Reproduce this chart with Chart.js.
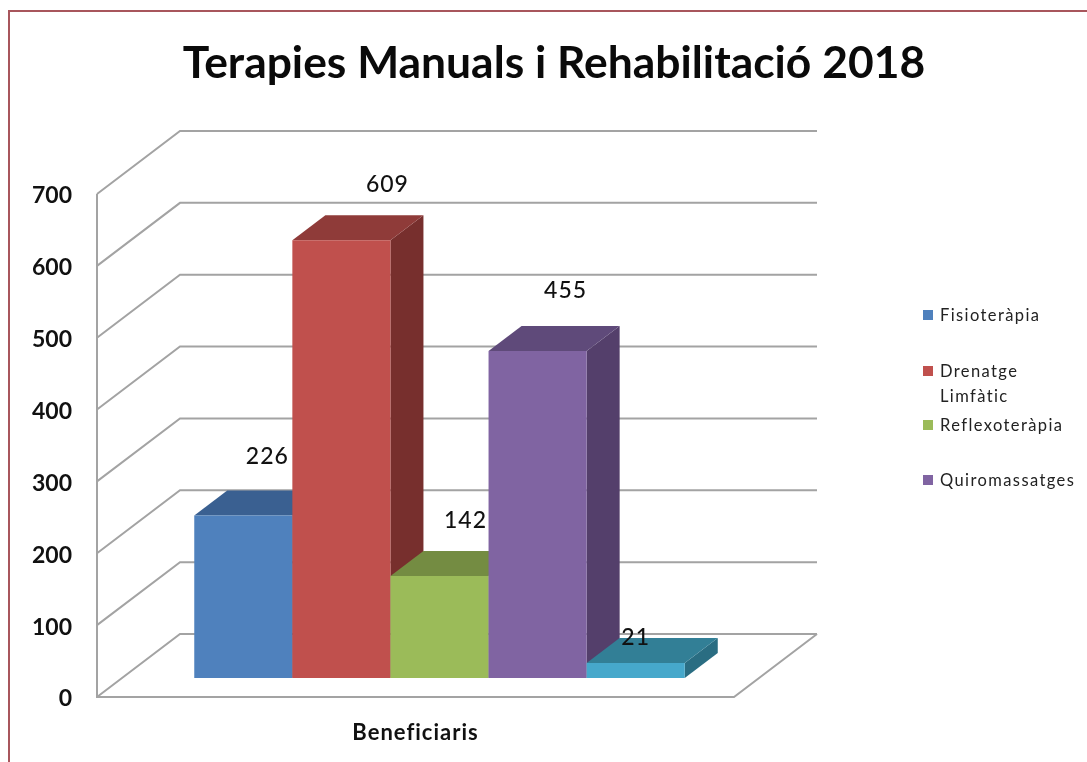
<!DOCTYPE html>
<html>
<head>
<meta charset="utf-8">
<style>html,body{margin:0;padding:0;background:#fff;overflow:hidden}canvas{display:block}</style>
<script src="https://cdn.jsdelivr.net/npm/chart.js@4"></script>
</head>
<body>
<canvas id="c" width="1087" height="762"></canvas>
<script>
const titleText = 'Terapies Manuals i Rehabilitació 2018';
const categories = ['Beneficiaris'];
const seriesNames = ['Fisioteràpia', 'Drenatge Limfàtic', 'Reflexoteràpia', 'Quiromassatges', ''];
const seriesValues = [226, 609, 142, 455, 21];
const yMin = 0, yMax = 700, yStep = 100;

const frontColors = ['#4F81BD', '#C0504D', '#9BBB59', '#8064A2', '#46A8CB'];
const topColors   = ['#3A6091', '#8F3B39', '#748C42', '#5F4A7A', '#327F96'];
const sideColors  = ['#2F4F78', '#772F2D', '#5F7336', '#543F6B', '#2A6D82'];

// perspective of the drawing
const wall = {dx: 83, dy: -63};       // floor front edge to back wall
const barShift = {dx: 24, dy: -19};   // floor front edge to bar front
const barDepth = {dx: 33, dy: -25};   // bar front to bar back
const gridColor = '#a3a3a3';
const labelNudge = [[24, -59], [46, -56], [26, -55], [28, -60], [0, -25]];
const legendRows = [
  {lines: ['Fisioteràpia'], y: 316},
  {lines: ['Drenatge', 'Limfàtic'], y: 372},
  {lines: ['Reflexoteràpia'], y: 426},
  {lines: ['Quiromassatges'], y: 481}
];

const poly = (ctx, pts, color) => {
  ctx.beginPath();
  pts.forEach((p, i) => i ? ctx.lineTo(p[0], p[1]) : ctx.moveTo(p[0], p[1]));
  ctx.closePath();
  ctx.fillStyle = color;
  ctx.fill();
};

// nudges one axis' labels without changing where its scale maps values
const tuneLabels = (scale, dy, spacing) => {
  if (scale._tuned) return;
  scale._tuned = true;
  const draw = scale.drawLabels;
  scale.drawLabels = function (area) {
    const ctx = this.ctx;
    ctx.save();
    ctx.translate(0, dy);
    ctx.letterSpacing = spacing;
    draw.call(this, area);
    ctx.restore();
  };
};

const frame3d = {
  id: 'frame3d',
  beforeDraw(chart) {
    const ctx = chart.ctx;
    ctx.save();
    ctx.strokeStyle = '#a8565c';
    ctx.lineWidth = 2;
    ctx.beginPath();
    ctx.moveTo(9, 762); ctx.lineTo(9, 11); ctx.lineTo(1087, 11);
    ctx.stroke();
    ctx.restore();
  },
  beforeDatasetsDraw(chart) {
    const ctx = chart.ctx, a = chart.chartArea, y = chart.scales.y;
    ctx.save();
    ctx.strokeStyle = gridColor;
    ctx.lineWidth = 2;
    ctx.lineJoin = 'miter';
    for (let v = yMin; v <= yMax; v += yStep) {
      const py = y.getPixelForValue(v);
      ctx.beginPath();
      ctx.moveTo(a.left, py);
      ctx.lineTo(a.left + wall.dx, py + wall.dy);
      ctx.lineTo(a.right + wall.dx, py + wall.dy);
      ctx.stroke();
    }
    ctx.beginPath();
    ctx.moveTo(a.left, y.getPixelForValue(yMax));
    ctx.lineTo(a.left, a.bottom);
    ctx.lineTo(a.right, a.bottom);
    ctx.lineTo(a.right + wall.dx, a.bottom + wall.dy);
    ctx.stroke();
    ctx.restore();
    // bars go left to right, each over the side of the previous one
    ctx.save();
    ctx.translate(barShift.dx, barShift.dy);
    const d = barDepth;
    seriesValues.forEach((_, i) => {
      const bar = chart.getDatasetMeta(i).data[0];
      const p = bar.getProps(['x', 'y', 'base', 'width'], true);
      const l = p.x - p.width / 2, r = p.x + p.width / 2;
      poly(ctx, [[r, p.y], [r + d.dx, p.y + d.dy], [r + d.dx, p.base + d.dy], [r, p.base]], sideColors[i]);
      poly(ctx, [[l, p.y], [l + d.dx, p.y + d.dy], [r + d.dx, p.y + d.dy], [r, p.y]], topColors[i]);
      bar.draw(ctx);
    });
    ctx.restore();
  },
  beforeDatasetDraw() { return false; },
  afterDatasetsDraw(chart) {
    const ctx = chart.ctx;
    ctx.save();
    ctx.fillStyle = '#111';
    ctx.font = '500 23px Lato';
    ctx.letterSpacing = '1px';
    ctx.textAlign = 'center';
    ctx.textBaseline = 'middle';
    seriesValues.forEach((v, i) => {
      const bar = chart.getDatasetMeta(i).data[0];
      ctx.fillText(String(v),
        bar.x + barShift.dx + labelNudge[i][0],
        bar.y + barShift.dy + labelNudge[i][1]);
    });
    // legend
    ctx.font = '16.5px Lato';
    ctx.letterSpacing = '1.4px';
    ctx.textAlign = 'left';
    legendRows.forEach((row, i) => {
      ctx.fillStyle = frontColors[i];
      ctx.fillRect(923, row.y - 6, 10, 10);
      ctx.fillStyle = '#222';
      row.lines.forEach((t, j) => ctx.fillText(t, 940, row.y + j * 25));
    });
    ctx.restore();
  }
};

new Chart(document.getElementById('c'), {
  type: 'bar',
  data: {
    labels: categories,
    datasets: seriesValues.map((v, i) => ({
      label: seriesNames[i],
      data: [v],
      backgroundColor: frontColors[i],
      borderWidth: 0,
      categoryPercentage: 0.77,
      barPercentage: 1
    }))
  },
  options: {
    responsive: false,
    animation: false,
    layout: {padding: {left: 21, right: 0, top: 0, bottom: 0}, autoPadding: false},
    plugins: {
      legend: {display: false},
      tooltip: {enabled: false},
      title: {
        display: true,
        text: titleText,
        color: '#0a0a0a',
        font: {family: 'Lato', size: 44.4, weight: 'bold', lineHeight: 1.2},
        padding: {top: 37, bottom: 103.7}
      }
    },
    scales: {
      x: {
        grid: {display: false},
        border: {display: false},
        ticks: {color: '#111', padding: 15, font: {family: 'Lato', size: 22, weight: 'bold'}},
        afterFit(s) { s.height = 65; tuneLabels(s, 0, '1px'); }
      },
      y: {
        min: yMin, max: yMax,
        grid: {display: false, drawTicks: false},
        border: {display: false},
        ticks: {stepSize: yStep, color: '#111', padding: 25, font: {family: 'Lato', size: 23, weight: 'bold'}},
        afterFit(s) { s.width = 76; tuneLabels(s, 2, '0px'); }
      },
      spacer: {
        position: 'right',
        display: true,
        min: yMin, max: yMax,
        grid: {display: false, drawTicks: false},
        border: {display: false},
        ticks: {display: false},
        afterFit(s) { s.width = 353; }
      }
    }
  },
  plugins: [frame3d]
});
</script>
</body>
</html>
